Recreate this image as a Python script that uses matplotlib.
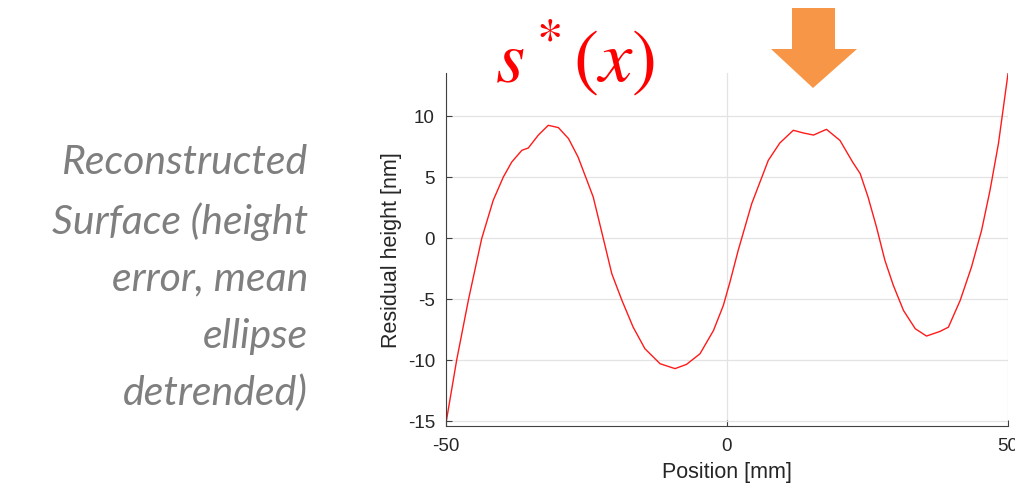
import numpy as np
import matplotlib.pyplot as plt
from matplotlib.patches import Polygon

plt.rcParams['font.family'] = ['Liberation Sans', 'DejaVu Sans']
plt.rcParams['mathtext.fontset'] = 'stix'
plt.rcParams['axes.unicode_minus'] = False

# residual height profile
position = [-50.0, -48.1, -46.0, -43.65, -41.6, -39.8, -38.3, -36.5, -35.35, -33.6,
            -31.8, -30.0, -28.2, -26.5, -24.7, -23.8, -22.0, -20.5, -18.7, -16.7,
            -14.6, -11.9, -9.25, -7.2, -4.8, -2.4, -0.65, 0.53, 2.0, 4.4,
            7.35, 9.4, 11.8, 13.6, 15.4, 17.7, 20.1, 22.35, 23.7, 25.1,
            26.6, 28.1, 29.6, 31.4, 33.5, 35.5, 37.9, 39.4, 41.5, 43.5,
            45.3, 46.8, 48.3, 50.0]
height = [-15.16, -10.0, -5.05, -0.05, 3.09, 5.0, 6.23, 7.19, 7.38, 8.42,
          9.24, 9.05, 8.15, 6.64, 4.46, 3.36, -0.05, -2.92, -5.1, -7.3,
          -9.07, -10.3, -10.7, -10.35, -9.48, -7.57, -5.52, -3.6, -1.0, 2.82,
          6.37, 7.79, 8.83, 8.61, 8.44, 8.91, 8.0, 6.23, 5.28, 3.36,
          0.9, -1.83, -3.88, -5.93, -7.43, -8.03, -7.65, -7.3, -5.1, -2.38,
          0.63, 3.91, 7.74, 13.47]

xticks = [-50, 0, 50]
yticks = [-15, -10, -5, 0, 5, 10]

fig = plt.figure(figsize=(10.15, 4.91), dpi=100)
ax = fig.add_axes([0.4394, 0.1324, 0.5537, 0.7183])

ax.plot(position, height, color='#FF1A1A', linewidth=1.0)

ax.set_xlim(-50, 50)
ax.set_ylim(-15.4, 13.5)
ax.set_xticks(xticks)
ax.set_yticks(yticks)
ax.grid(True, color='#E3E3E3', linewidth=0.9)
ax.set_axisbelow(True)
for side in ['top', 'right']:
    ax.spines[side].set_visible(False)
for side in ['left', 'bottom']:
    ax.spines[side].set_color('#404040')
ax.tick_params(direction='in', length=4, colors='#404040', labelcolor='#262626', labelsize=13.5)
ax.tick_params(axis='x', pad=9)
ax.tick_params(axis='y', pad=8)
ax.set_xlabel('Position [mm]', fontsize=15.5, color='#262626', labelpad=5)
ax.set_ylabel('Residual height [nm]', fontsize=15.5, color='#262626', labelpad=4)

# title formula and arrow
fig.text(0.4877, 0.833, r'$s^*(x)$', fontsize=54, color='red', ha='left', va='baseline')
W, H = 1015, 491
arrow_px = [(792, 8), (835, 8), (835, 49), (857, 49), (813, 88), (771, 49), (792, 49)]
fig.patches.append(Polygon([(px / W, 1 - py / H) for px, py in arrow_px], closed=True,
                           transform=fig.transFigure, facecolor='#F79646', edgecolor='none'))

# side caption
fig.text(0.3035, 0.433, 'Reconstructed\nSurface (height\nerror, mean\nellipse\ndetrended)',
         fontsize=29.5, color='#7F7F7F', style='italic', family=['Lato', 'DejaVu Sans'],
         ha='right', va='center', linespacing=1.66, multialignment='right')

fig.savefig('out.png', dpi=100)
